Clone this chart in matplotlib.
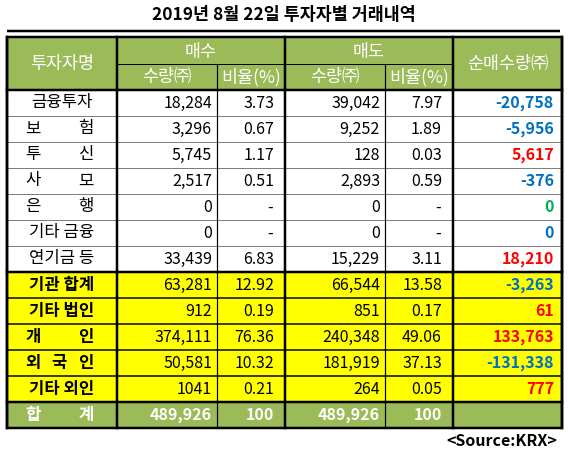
import matplotlib
matplotlib.use("Agg")
import matplotlib.pyplot as plt
from matplotlib.patches import Rectangle

plt.rcParams['font.family'] = ['Noto Sans CJK KR', 'DejaVu Sans']

# 데이터
title = '2019년 8월 22일 투자자별 거래내역'
categories = ['금융투자', '보험', '투신', '사모', '은행', '기타 금융', '연기금 등',
              '기관 합계', '기타 법인', '개인', '외국인', '기타 외인']
buy_qty = ['18,284', '3,296', '5,745', '2,517', '0', '0', '33,439',
           '63,281', '912', '374,111', '50,581', '1041']
buy_ratio = ['3.73', '0.67', '1.17', '0.51', '-', '-', '6.83',
             '12.92', '0.19', '76.36', '10.32', '0.21']
sell_qty = [39042, 9252, 128, 2893, 0, 0, 15229,
            66544, 851, 240348, 181919, 264]
sell_ratio = ['7.97', '1.89', '0.03', '0.59', '-', '-', '3.11',
              '13.58', '0.17', '49.06', '37.13', '0.05']
net_qty = [-20758, -5956, 5617, -376, 0, 0, 18210,
           -3263, 61, 133763, -131338, 777]
total_label = '합계'
total_buy, total_buy_ratio = '489,926', '100'
total_sell, total_sell_ratio = '489,926', '100'
source = '<Source:KRX>'

# 스타일
GREEN = '#9BBB59'
YELLOW = '#FFFF00'
BLUE = '#0070C0'
RED = '#FF0000'
ZERO_GREEN = '#00B050'
n_white = 7  # 흰색 행 개수 (나머지는 노란색)

# 레이아웃 (픽셀)
W, H = 568, 453
col_x = [7, 117, 217, 285, 385, 453, 562]
top, mid, head_bot = 37, 64, 90
row_h = 26
fs = 11.5      # 숫자
fs_lab = 12    # 투자자명

fig = plt.figure(figsize=(W / 100, H / 100), dpi=100)
ax = fig.add_axes([0, 0, 1, 1])
ax.set_xlim(0, W)
ax.set_ylim(H, 0)
ax.axis('off')

px = 0.72  # 1 픽셀 = 0.72 pt

ax.text(W / 2, 15, title, ha='center', va='center', fontsize=12.5, fontweight='bold')
ax.plot([7, 560], [31, 31], color='black', lw=2.5 * px, solid_capstyle='butt')

n_rows = len(categories)
rows_y = [head_bot + i * row_h for i in range(n_rows + 1)]
bottom = rows_y[-1] + row_h

# 배경
ax.add_patch(Rectangle((col_x[0], top), col_x[-1] - col_x[0], head_bot - top, color=GREEN, lw=0))
for i in range(n_rows):
    c = 'white' if i < n_white else YELLOW
    ax.add_patch(Rectangle((col_x[0], rows_y[i]), col_x[-1] - col_x[0], row_h, color=c, lw=0))
ax.add_patch(Rectangle((col_x[0], rows_y[-1]), col_x[-1] - col_x[0], row_h, color=GREEN, lw=0))

# 가로선
for i in range(1, n_rows):
    y = rows_y[i]
    if i < n_white:
        ax.plot([col_x[0], col_x[-1]], [y, y], color='black', lw=1 * px, ls=(0, (1, 1)))
    elif i == n_white:
        ax.plot([col_x[0], col_x[-1]], [y, y], color='black', lw=2.5 * px)
    else:
        ax.plot([col_x[0], col_x[-1]], [y, y], color='black', lw=1.5 * px)
ax.plot([col_x[0], col_x[-1]], [rows_y[-1], rows_y[-1]], color='black', lw=2.5 * px)
ax.plot([col_x[0], col_x[-1]], [head_bot, head_bot], color='black', lw=2.5 * px)
ax.plot([col_x[1], col_x[5]], [mid, mid], color='black', lw=1 * px)

# 세로선
for j, x in enumerate(col_x):
    if j in (2, 4):
        ax.plot([x, x], [mid, bottom], color='black', lw=1.2 * px)
    else:
        ax.plot([x, x], [top, bottom], color='black', lw=2.5 * px)
ax.add_patch(Rectangle((col_x[0], top), col_x[-1] - col_x[0], bottom - top,
                       fill=False, ec='black', lw=2.5 * px))

# 헤더
hdr = dict(color='white', fontsize=12.5, ha='center', va='center')
ax.text((col_x[0] + col_x[1]) / 2, (top + head_bot) / 2, '투자자명', **hdr)
ax.text((col_x[1] + col_x[3]) / 2, (top + mid) / 2 + 1, '매수', **hdr)
ax.text((col_x[3] + col_x[5]) / 2, (top + mid) / 2 + 1, '매도', **hdr)
ax.text((col_x[1] + col_x[2]) / 2, (mid + head_bot) / 2, '수량㈜', **hdr)
ax.text((col_x[2] + col_x[3]) / 2, (mid + head_bot) / 2, '비율(%)', **hdr)
ax.text((col_x[3] + col_x[4]) / 2, (mid + head_bot) / 2, '수량㈜', **hdr)
ax.text((col_x[4] + col_x[5]) / 2, (mid + head_bot) / 2, '비율(%)', **hdr)
ax.text((col_x[5] + col_x[6]) / 2, (top + head_bot) / 2, '순매수량㈜', **hdr)


def label(text, yc, **kw):
    # 공백 없는 2~3글자는 양쪽 정렬
    if ' ' not in text and len(text) <= 3:
        left, right = 33, 86
        n = len(text)
        for k, ch in enumerate(text):
            x = left + (right - left) * k / (n - 1)
            ax.text(x, yc, ch, ha='center', va='center', **kw)
    else:
        ax.text((col_x[0] + col_x[1]) / 2, yc, text, ha='center', va='center', **kw)


def ratio_text(x_right, yc, s, **kw):
    if s == '-':
        ax.text(x_right - 4, yc, s, ha='center', va='center', **kw)
    else:
        ax.text(x_right, yc, s, ha='right', va='center', **kw)


zero_color = {'은행': ZERO_GREEN, '기타 금융': BLUE}

for i, cat in enumerate(categories):
    yc = rows_y[i] + row_h / 2
    bold = 'bold' if i >= n_white else 'normal'
    label(cat, yc, fontsize=fs_lab, fontweight=bold)
    ax.text(col_x[2] - 5, yc, buy_qty[i], ha='right', va='center', fontsize=fs)
    ratio_text(col_x[3] - 11, yc, buy_ratio[i], fontsize=fs)
    ax.text(col_x[4] - 5, yc, f'{sell_qty[i]:,}', ha='right', va='center', fontsize=fs)
    ratio_text(col_x[5] - 11, yc, sell_ratio[i], fontsize=fs)
    v = net_qty[i]
    if v < 0:
        c = BLUE
    elif v > 0:
        c = RED
    else:
        c = zero_color.get(cat, BLUE)
    ax.text(col_x[6] - 8, yc, f'{v:,}', ha='right', va='center', fontsize=fs,
            fontweight='bold', color=c)

# 합계 행
yc = rows_y[-1] + row_h / 2
label(total_label, yc, fontsize=fs_lab, fontweight='bold', color='white')
tot = dict(ha='right', va='center', fontsize=fs, fontweight='bold', color='white')
ax.text(col_x[2] - 5, yc, total_buy, **tot)
ax.text(col_x[3] - 11, yc, total_buy_ratio, **tot)
ax.text(col_x[4] - 5, yc, total_sell, **tot)
ax.text(col_x[5] - 11, yc, total_sell_ratio, **tot)

ax.text(557, 441, source, ha='right', va='center', fontsize=11.5, fontweight='bold')

fig.savefig('out.png', dpi=100)
